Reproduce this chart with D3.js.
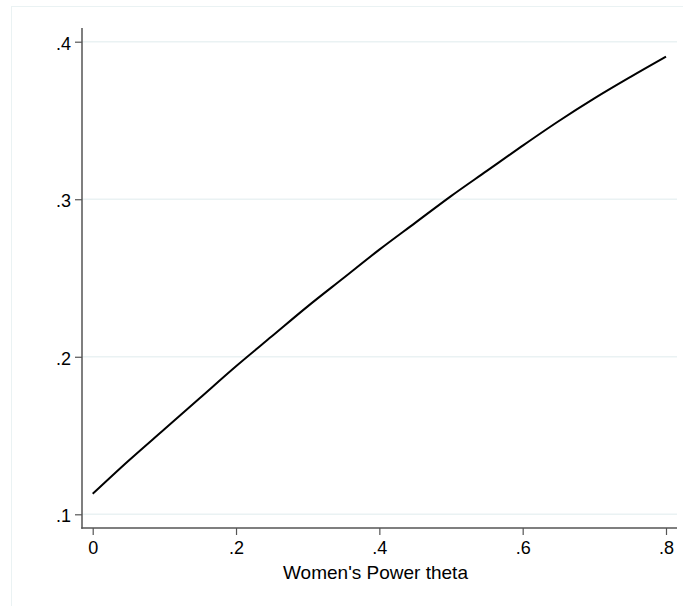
<!DOCTYPE html>
<html>
<head>
<meta charset="utf-8">
<script src="https://cdn.jsdelivr.net/npm/d3@7"></script>
<style>
  html, body { margin: 0; padding: 0; background: #fff; }
  svg { display: block; }
  text { font-family: "Liberation Sans", Arial, sans-serif; fill: #000; }
</style>
</head>
<body>
<svg id="chart" width="683" height="606"></svg>
<script>
// Data (Women's Power theta vs predicted value)
const theta = [0, 0.05, 0.1, 0.15, 0.2, 0.25, 0.3, 0.35, 0.4, 0.45, 0.5, 0.55, 0.6, 0.65, 0.7, 0.75, 0.8];
const values = [0.113, 0.134, 0.154, 0.174, 0.194, 0.213, 0.232, 0.250, 0.268, 0.285, 0.302, 0.318, 0.334, 0.3495, 0.364, 0.3775, 0.3905];
const xTicks = [0, 0.2, 0.4, 0.6, 0.8];
const yTicks = [0.1, 0.2, 0.3, 0.4];
const xTitle = "Women's Power theta";

const fmt = v => v === 0 ? "0" : String(v).replace(/^0/, "");

const svg = d3.select("#chart");

// outer graph-region border
svg.append("rect")
  .attr("x", 11.5).attr("y", 6.5).attr("width", 700).attr("height", 700)
  .attr("fill", "none").attr("stroke", "#eaf2f3").attr("stroke-width", 1);

const plotLeft = 82, plotRight = 677, plotTop = 28, plotBottom = 528;

const x = d3.scaleLinear().domain([0, 0.8]).range([92.7, 666]);
const y = d3.scaleLinear().domain([0.1, 0.4]).range([514.3, 41.7]);

// gridlines
svg.append("g").selectAll("line").data(yTicks).join("line")
  .attr("x1", plotLeft).attr("x2", plotRight)
  .attr("y1", d => y(d)).attr("y2", d => y(d))
  .attr("stroke", "#eaf2f3").attr("stroke-width", 1.5);

// y axis
const yAxis = svg.append("g").attr("transform", `translate(${plotLeft},0)`)
  .call(d3.axisLeft(y).tickValues(yTicks).tickFormat(fmt).tickSize(7).tickPadding(4));
yAxis.select(".domain").remove();
yAxis.selectAll("line").attr("stroke", "#555").attr("stroke-width", 1.2);
yAxis.selectAll("text").attr("font-size", 18).attr("dy", "0.42em")
  .style("font-family", '"Liberation Sans", Arial, sans-serif').attr("fill", "#000");

// x axis
const xAxis = svg.append("g").attr("transform", `translate(0,${plotBottom})`)
  .call(d3.axisBottom(x).tickValues(xTicks).tickFormat(fmt).tickSize(7).tickPadding(6));
xAxis.select(".domain").remove();
xAxis.selectAll("line").attr("stroke", "#555").attr("stroke-width", 1.2);
xAxis.selectAll("text").attr("font-size", 18)
  .style("font-family", '"Liberation Sans", Arial, sans-serif').attr("fill", "#000");

// axis lines
svg.append("line").attr("x1", plotLeft).attr("x2", plotLeft)
  .attr("y1", plotTop).attr("y2", plotBottom + 0.75)
  .attr("stroke", "#555").attr("stroke-width", 1.5);
svg.append("line").attr("x1", plotLeft - 0.75).attr("x2", plotRight)
  .attr("y1", plotBottom).attr("y2", plotBottom)
  .attr("stroke", "#555").attr("stroke-width", 1.5);

// curve
const pts = theta.map((t, i) => [t, values[i]]);
svg.append("path").datum(pts)
  .attr("fill", "none").attr("stroke", "#000").attr("stroke-width", 2)
  .attr("d", d3.line().x(d => x(d[0])).y(d => y(d[1])).curve(d3.curveMonotoneX));

// axis title
svg.append("text").attr("x", (plotLeft + plotRight) / 2 - 4).attr("y", 579)
  .attr("text-anchor", "middle").attr("font-size", 19).text(xTitle);
</script>
</body>
</html>
